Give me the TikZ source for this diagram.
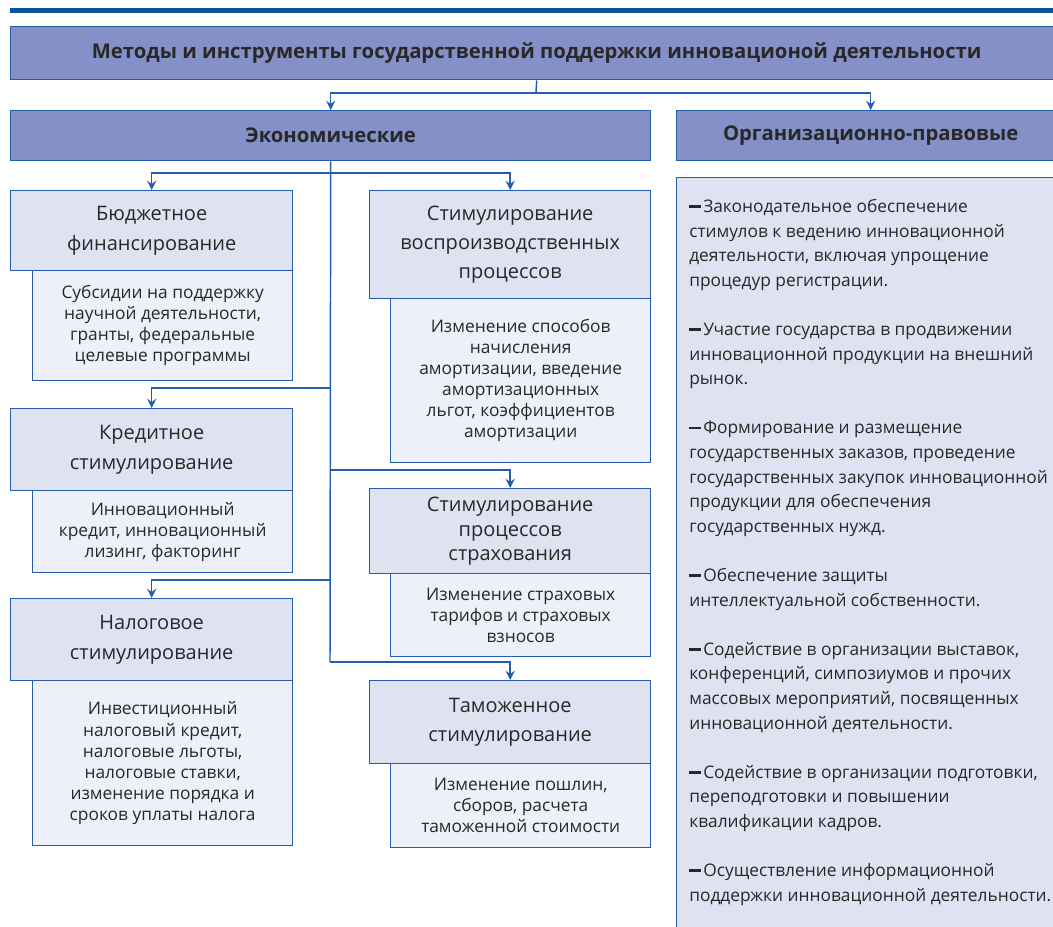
\documentclass[tikz,border=0pt]{standalone}
\usepackage{fontspec}
\setmainfont{Open Sans}
\usetikzlibrary{arrows.meta}
\definecolor{barblue}{RGB}{12,80,160}
\definecolor{lineblue}{RGB}{38,92,172}
\definecolor{darkfill}{RGB}{132,144,199}
\definecolor{headfill}{RGB}{223,226,241}
\definecolor{subfill}{RGB}{237,240,248}
\definecolor{txt}{RGB}{40,40,40}
% dash in front of each item
\newcommand{\itemdash}{\rule[3.6pt]{9pt}{1.9pt}\hspace{1.5pt}}
\begin{document}
\begin{tikzpicture}[x=0.75pt,y=-0.75pt]
    % one pixel of the layout
    \def\pw{0.75pt}
    % box styles
    \tikzstyle{box} = [draw=lineblue, line width=1pt, anchor=north west,
        inner sep=0pt, align=center, text=txt];
    \tikzstyle{main} = [box, fill=darkfill, font=\bfseries\fontsize{15.2}{18}\selectfont];
    \tikzstyle{head} = [box, fill=headfill, font=\fontsize{15}{22}\selectfont];
    \tikzstyle{sub} = [box, fill=subfill, font=\fontsize{13}{15.8}\selectfont];
    \tikzstyle{link} = [draw=lineblue, line width=1.1pt];
    \tikzstyle{arr} = [link, -{Stealth[length=7pt,width=7pt,inset=2.5pt]}];
    \useasboundingbox (0,0) rectangle (1053,927);
    % top bar
    \fill[barblue] (10,8) rectangle (1053,13);
    % top level
    \node[main, minimum width=1052*\pw, minimum height=53*\pw] (title) at (10,26)
        {Методы и инструменты государственной поддержки инновационой деятельности};
    \node[main, minimum width=640*\pw, minimum height=50*\pw] (econ) at (10,110) {Экономические};
    \node[main, minimum width=388*\pw, minimum height=50*\pw] (org) at (676,110) {Организационно-правовые};
    % left column
    \node[sub, minimum width=260*\pw, minimum height=110*\pw] (budgetsub) at (32,270)
        {Субсидии на поддержку\\научной деятельности,\\гранты, федеральные\\целевые программы};
    \node[head, minimum width=282*\pw, minimum height=80*\pw] (budget) at (10,190)
        {Бюджетное\\финансирование};
    \node[sub, minimum width=260*\pw, minimum height=82*\pw] (creditsub) at (32,490)
        {Инновационный\\кредит, инновационный\\лизинг, факторинг};
    \node[head, minimum width=282*\pw, minimum height=82*\pw] (credit) at (10,408)
        {Кредитное\\стимулирование};
    \node[sub, minimum width=260*\pw, minimum height=165*\pw] (taxsub) at (32,680)
        {Инвестиционный\\налоговый кредит,\\налоговые льготы,\\налоговые ставки,\\изменение порядка и\\сроков уплаты налога};
    \node[head, minimum width=282*\pw, minimum height=82*\pw] (tax) at (10,598)
        {Налоговое\\стимулирование};
    % middle column
    \node[sub, minimum width=260*\pw, minimum height=164*\pw] (stimsub) at (390,298)
        {Изменение способов\\начисления\\амортизации, введение\\амортизационных\\льгот, коэффициентов\\амортизации};
    \node[head, minimum width=281*\pw, minimum height=108*\pw] (stim) at (369,190)
        {Стимулирование\\воспроизводственных\\процессов};
    \node[sub, minimum width=260*\pw, minimum height=83*\pw] (insursub) at (390,573)
        {Изменение страховых\\тарифов и страховых\\взносов};
    \node[head, minimum width=281*\pw, minimum height=85*\pw,
        font=\fontsize{15}{18.4}\selectfont] (insur) at (369,488)
        {Стимулирование\\процессов\\страхования};
    \node[sub, minimum width=260*\pw, minimum height=84*\pw] (customsub) at (390,763)
        {Изменение пошлин,\\сборов, расчета\\таможенной стоимости};
    \node[head, minimum width=281*\pw, minimum height=83*\pw] (customs) at (369,680)
        {Таможенное\\стимулирование};
    % right column
    \node[box, fill=headfill, minimum width=390*\pw, minimum height=780*\pw] (panel) at (676,177) {};
    \node[anchor=north west, inner sep=0pt, align=left, text=txt,
        font=\fontsize{13}{18.45}\selectfont] (orgtext) at (689,199)
        {\itemdash Законодательное обеспечение\\
        стимулов к ведению инновационной\\
        деятельности, включая упрощение\\
        процедур регистрации.\\[18.45pt]
        \itemdash Участие государства в продвижении\\
        инновационной продукции на внешний\\
        рынок.\\[18.45pt]
        \itemdash Формирование и размещение\\
        государственных заказов, проведение\\
        государственных закупок инновационной\\
        продукции для обеспечения\\
        государственных нужд.\\[18.45pt]
        \itemdash Обеспечение защиты\\
        интеллектуальной собственности.\\[18.45pt]
        \itemdash Содействие в организации выставок,\\
        конференций, симпозиумов и прочих\\
        массовых мероприятий, посвященных\\
        инновационной деятельности.\\[18.45pt]
        \itemdash Содействие в организации подготовки,\\
        переподготовки и повышении\\
        квалификации кадров.\\[18.45pt]
        \itemdash Осуществление информационной\\
        поддержки инновационной деятельности.};
    % connectors
    \coordinate (split) at (536,93);
    \draw[link] (title.south) -- (split);
    \draw[arr] (split) -| (econ.north);
    \draw[arr] (split) -| (org.north);
    \coordinate (b1) at (330,173);
    \coordinate (b2) at (330,388);
    \coordinate (b3) at (330,470);
    \coordinate (b4) at (330,580);
    \coordinate (b5) at (330,662);
    \draw[link] (econ.south) -- (b5);
    \draw[arr] (b1) -| (budget.north);
    \draw[arr] (b1) -| (stim.north);
    \draw[arr] (b2) -| (credit.north);
    \draw[arr] (b3) -| (insur.north);
    \draw[arr] (b4) -| (tax.north);
    \draw[arr] (b5) -| (customs.north);
\end{tikzpicture}
\end{document}
